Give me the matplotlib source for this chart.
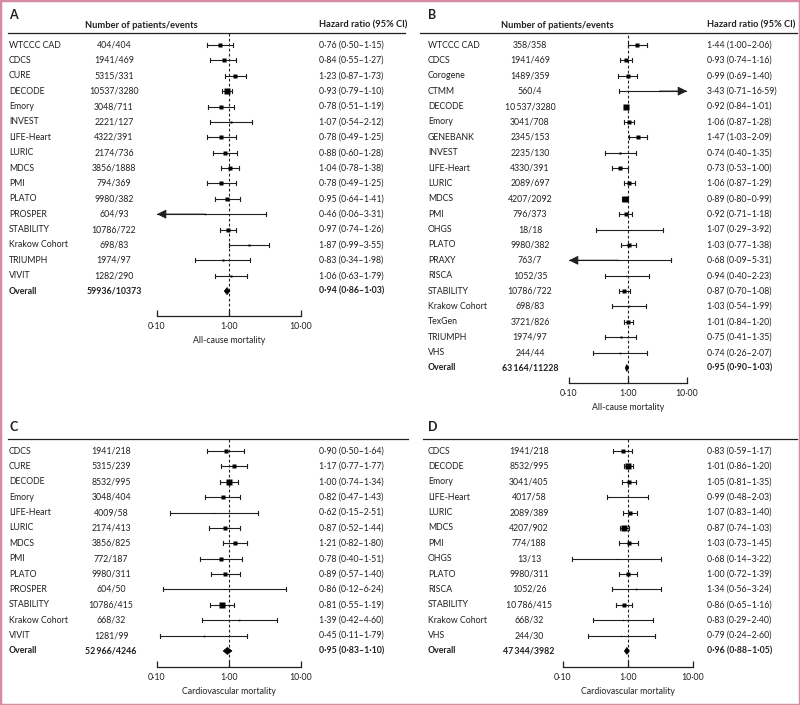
import numpy as np
import matplotlib.pyplot as plt
from matplotlib.patches import Rectangle, Polygon
from matplotlib.ticker import NullLocator

plt.rcParams['font.family'] = ['Lato', 'DejaVu Sans']

# ---- panel A: all-cause mortality ----
names_a = ["WTCCC CAD", "CDCS", "CURE", "DECODE", "Emory", "INVEST", "LIFE-Heart",
           "LURIC", "MDCS", "PMI", "PLATO", "PROSPER", "STABILITY", "Krakow Cohort",
           "TRIUMPH", "VIVIT"]
counts_a = ["404/404", "1941/469", "5315/331", "10537/3280", "3048/711", "2221/127",
            "4322/391", "2174/736", "3856/1888", "794/369", "9980/382", "604/93",
            "10786/722", "698/83", "1974/97", "1282/290"]
hr_a = [0.76, 0.84, 1.23, 0.93, 0.78, 1.07, 0.78, 0.88, 1.04, 0.78, 0.95, 0.46, 0.97, 1.87, 0.83, 1.06]
lo_a = [0.50, 0.55, 0.87, 0.79, 0.51, 0.54, 0.49, 0.60, 0.78, 0.49, 0.64, 0.06, 0.74, 0.99, 0.34, 0.63]
hi_a = [1.15, 1.27, 1.73, 1.10, 1.19, 2.12, 1.25, 1.28, 1.38, 1.25, 1.41, 3.31, 1.26, 3.55, 1.98, 1.79]
wt_a = [6, 6, 8, 18, 6, 2, 4.5, 6, 10, 4.5, 6, 1, 10, 2, 2, 3]
overall_a = ("59936/10373", 0.94, 0.86, 1.03)

# ---- panel B: all-cause mortality ----
names_b = ["WTCCC CAD", "CDCS", "Corogene", "CTMM", "DECODE", "Emory", "GENEBANK", "INVEST",
           "LIFE-Heart", "LURIC", "MDCS", "PMI", "OHGS", "PLATO", "PRAXY", "RISCA",
           "STABILITY", "Krakow Cohort", "TexGen", "TRIUMPH", "VHS"]
counts_b = ["358/358", "1941/469", "1489/359", "560/4", "10\u2009537/3280", "3041/708", "2345/153",
            "2235/130", "4330/391", "2089/697", "4207/2092", "796/373", "18/18", "9980/382",
            "763/7", "1052/35", "10786/722", "698/83", "3721/826", "1974/97", "244/44"]
hr_b = [1.44, 0.93, 0.99, 3.43, 0.92, 1.06, 1.47, 0.74, 0.73, 1.06, 0.89, 0.92, 1.07, 1.03,
        0.68, 0.94, 0.87, 1.03, 1.01, 0.75, 0.74]
lo_b = [1.00, 0.74, 0.69, 0.71, 0.84, 0.87, 1.03, 0.40, 0.53, 0.87, 0.80, 0.71, 0.29, 0.77,
        0.09, 0.40, 0.70, 0.54, 0.84, 0.41, 0.26]
hi_b = [2.06, 1.16, 1.40, 16.59, 1.01, 1.28, 2.09, 1.35, 1.00, 1.29, 0.99, 1.18, 3.92, 1.38,
        5.31, 2.23, 1.08, 1.99, 1.20, 1.35, 2.07]
wt_b = [4.3, 7.6, 4.3, 0.5, 17, 7.6, 4.3, 1.9, 4.3, 7.6, 17, 5.8, 0.5, 5.8, 0.5, 0.7, 9.6, 1.1, 9.6, 1.9, 1.1]
overall_b = ("63\u2009164/11228", 0.95, 0.90, 1.03)

# ---- panel C: cardiovascular mortality ----
names_c = ["CDCS", "CURE", "DECODE", "Emory", "LIFE-Heart", "LURIC", "MDCS", "PMI", "PLATO",
           "PROSPER", "STABILITY", "Krakow Cohort", "VIVIT"]
counts_c = ["1941/218", "5315/239", "8532/995", "3048/404", "4009/58", "2174/413", "3856/825",
            "772/187", "9980/311", "604/50", "10786/415", "668/32", "1281/99"]
hr_c = [0.90, 1.17, 1.00, 0.82, 0.62, 0.87, 1.21, 0.78, 0.89, 0.86, 0.81, 1.39, 0.45]
lo_c = [0.50, 0.77, 0.74, 0.47, 0.15, 0.52, 0.82, 0.40, 0.57, 0.12, 0.55, 0.42, 0.11]
hi_c = [1.64, 1.77, 1.34, 1.43, 2.51, 1.44, 1.80, 1.51, 1.40, 6.24, 1.19, 4.60, 1.79]
wt_c = [5.8, 9.6, 17, 5.8, 0.5, 5.8, 9.6, 4.3, 7.6, 0.5, 12, 1.1, 1.1]
overall_c = ("52\u2009966/4246", 0.95, 0.83, 1.10)

# ---- panel D: cardiovascular mortality ----
names_d = ["CDCS", "DECODE", "Emory", "LIFE-Heart", "LURIC", "MDCS", "PMI", "OHGS", "PLATO",
           "RISCA", "STABILITY", "Krakow Cohort", "VHS"]
counts_d = ["1941/218", "8532/995", "3041/405", "4017/58", "2089/389", "4207/902", "774/188",
            "13/13", "9980/311", "1052/26", "10\u2009786/415", "668/32", "244/30"]
hr_d = [0.83, 1.01, 1.05, 0.99, 1.07, 0.87, 1.03, 0.68, 1.00, 1.34, 0.86, 0.83, 0.79]
lo_d = [0.59, 0.86, 0.81, 0.48, 0.83, 0.74, 0.73, 0.14, 0.72, 0.56, 0.65, 0.29, 0.24]
hi_d = [1.17, 1.20, 1.35, 2.03, 1.40, 1.03, 1.45, 3.22, 1.39, 3.24, 1.16, 2.40, 2.60]
wt_d = [4.3, 14, 5.8, 0.5, 4.3, 12, 4.3, 0.5, 5.8, 1.1, 7.6, 0.7, 0.7]
overall_d = ("47\u2009344/3982", 0.96, 0.88, 1.05)

W, H = 800, 705
TXT = '#231f20'
FS = 6.3      # body text
FSH = 6.7     # bold column headers
ROW = 15.38
XMIN, XMAX = 0.1, 10.0


def fmt(v):
    return f'{v:.2f}'.replace('.', '\u00b7')


def hr_text(h, l, u):
    return f'{fmt(h)} ({fmt(l)}\u2013{fmt(u)})'


fig = plt.figure(figsize=(W / 100, H / 100), dpi=100)
bg = fig.add_axes([0, 0, 1, 1])
bg.set_xlim(0, W)
bg.set_ylim(H, 0)
bg.axis('off')


def draw_panel(letter, names, counts, hr, lo, hi, wt, overall, xlabel, lay):
    # text columns and header rule live on the background axes (pixel units)
    bg.text(lay['nx'], lay['let_y'], letter, fontsize=9, fontweight='bold', color=TXT,
            va='center', ha='left')
    if lay.get('headers'):
        bg.text(lay['hdr_cx'], 25, 'Number of patients/events', fontsize=FSH, fontweight='bold',
                color=TXT, ha='center', va='center')
        bg.text(lay['hx'], 25, 'Hazard ratio (95% CI)', fontsize=FSH, fontweight='bold',
                color=TXT, ha='left', va='center')
    bg.plot([lay['x0'], lay['x1']], [lay['top'], lay['top']], color=TXT, lw=0.9)

    n = len(names)
    ys = lay['y0'] + ROW * np.arange(n + 1)
    for i in range(n):
        bg.text(lay['nx'], ys[i], names[i], fontsize=FS, color=TXT, va='center', ha='left')
        bg.text(lay['cx'], ys[i], counts[i], fontsize=FS, color=TXT, va='center', ha='center')
        bg.text(lay['hx'], ys[i], hr_text(hr[i], lo[i], hi[i]), fontsize=FS, color=TXT,
                va='center', ha='left')
    oc, oh, ol, ou = overall
    bg.text(lay['nx'], ys[n], 'Overall', fontsize=FS, fontweight='bold', color=TXT, va='center')
    bg.text(lay['cx'], ys[n], oc, fontsize=FS, fontweight='bold', color=TXT, va='center', ha='center')
    bg.text(lay['hx'], ys[n], hr_text(oh, ol, ou), fontsize=FS, fontweight='bold', color=TXT,
            va='center', ha='left')

    # forest axes: log hazard ratio on x, pixel rows on y
    ax = fig.add_axes([lay['ax0'] / W, 1 - lay['base'] / H,
                       (lay['ax1'] - lay['ax0']) / W, (lay['base'] - lay['top']) / H])
    ax.patch.set_visible(False)
    ax.set_xscale('log')
    ax.set_xlim(XMIN, XMAX)
    ax.set_ylim(lay['base'], lay['top'])
    for s in ('top', 'left', 'right'):
        ax.spines[s].set_visible(False)
    ax.spines['bottom'].set_linewidth(0.9)
    ax.spines['bottom'].set_color(TXT)
    ax.set_yticks([])
    ax.set_xticks([0.1, 1, 10])
    ax.set_xticklabels([fmt(0.1), fmt(1), fmt(10)])
    ax.xaxis.set_minor_locator(NullLocator())
    ax.tick_params(axis='x', direction='in', length=4, width=0.9, pad=4, labelsize=FS,
                   colors=TXT)
    ax.set_xlabel(xlabel, fontsize=FS, color=TXT, labelpad=4)
    ax.axvline(1, color=TXT, lw=0.8, ls=(0, (2.5, 2)), zorder=1)

    for i in range(n):
        y = ys[i]
        l, u = max(lo[i], XMIN), min(hi[i], XMAX)
        ax.plot([l, u], [y, y], color=TXT, lw=0.8, zorder=2)
        if lo[i] >= XMIN:
            ax.plot([l, l], [y - 2, y + 2], color=TXT, lw=0.8, zorder=2)
        else:
            ax.annotate('', xy=(XMIN, y), xytext=(hr[i], y), zorder=3,
                        arrowprops=dict(arrowstyle='-|>,head_length=0.6,head_width=0.3',
                                        color=TXT, lw=0.8, shrinkA=0, shrinkB=0,
                                        mutation_scale=9))
        if hi[i] <= XMAX:
            ax.plot([u, u], [y - 2, y + 2], color=TXT, lw=0.8, zorder=2)
        else:
            ax.annotate('', xy=(XMAX, y), xytext=(hr[i], y), zorder=3,
                        arrowprops=dict(arrowstyle='-|>,head_length=0.6,head_width=0.3',
                                        color=TXT, lw=0.8, shrinkA=0, shrinkB=0,
                                        mutation_scale=9))
        side = 1.45 * np.sqrt(wt[i]) * 0.72
        ax.plot(hr[i], y, marker='s', ms=side, color='black', mec='none', zorder=4)

    yo = ys[n]
    ax.add_patch(Polygon([(ol, yo), (oh, yo - 3.5), (ou, yo), (oh, yo + 3.5)],
                         closed=True, fc='black', ec='black', lw=0.5, zorder=4))


draw_panel('A', names_a, counts_a, hr_a, lo_a, hi_a, wt_a, overall_a, 'All-cause mortality',
           dict(x0=8, x1=405, nx=9, cx=114, hx=319, ax0=157, ax1=301, top=33, y0=45,
                base=316, let_y=15, headers=True, hdr_cx=141))
draw_panel('B', names_b, counts_b, hr_b, lo_b, hi_b, wt_b, overall_b, 'All-cause mortality',
           dict(x0=420, x1=797, nx=428, cx=530, hx=707, ax0=569, ax1=687, top=33, y0=45,
                base=383, let_y=15, headers=True, hdr_cx=557))
draw_panel('C', names_c, counts_c, hr_c, lo_c, hi_c, wt_c, overall_c, 'Cardiovascular mortality',
           dict(x0=8, x1=408, nx=9, cx=111, hx=319, ax0=157, ax1=301, top=439, y0=451,
                base=667, let_y=427))
draw_panel('D', names_d, counts_d, hr_d, lo_d, hi_d, wt_d, overall_d, 'Cardiovascular mortality',
           dict(x0=423, x1=797, nx=428, cx=529, hx=707, ax0=563, ax1=693, top=439, y0=451,
                base=667, let_y=427))

fig.patches.append(Rectangle((0, 0), 1, 1, transform=fig.transFigure, fill=False,
                             ec='#d68ba0', lw=2.5))

fig.savefig('out.png', dpi=100)
